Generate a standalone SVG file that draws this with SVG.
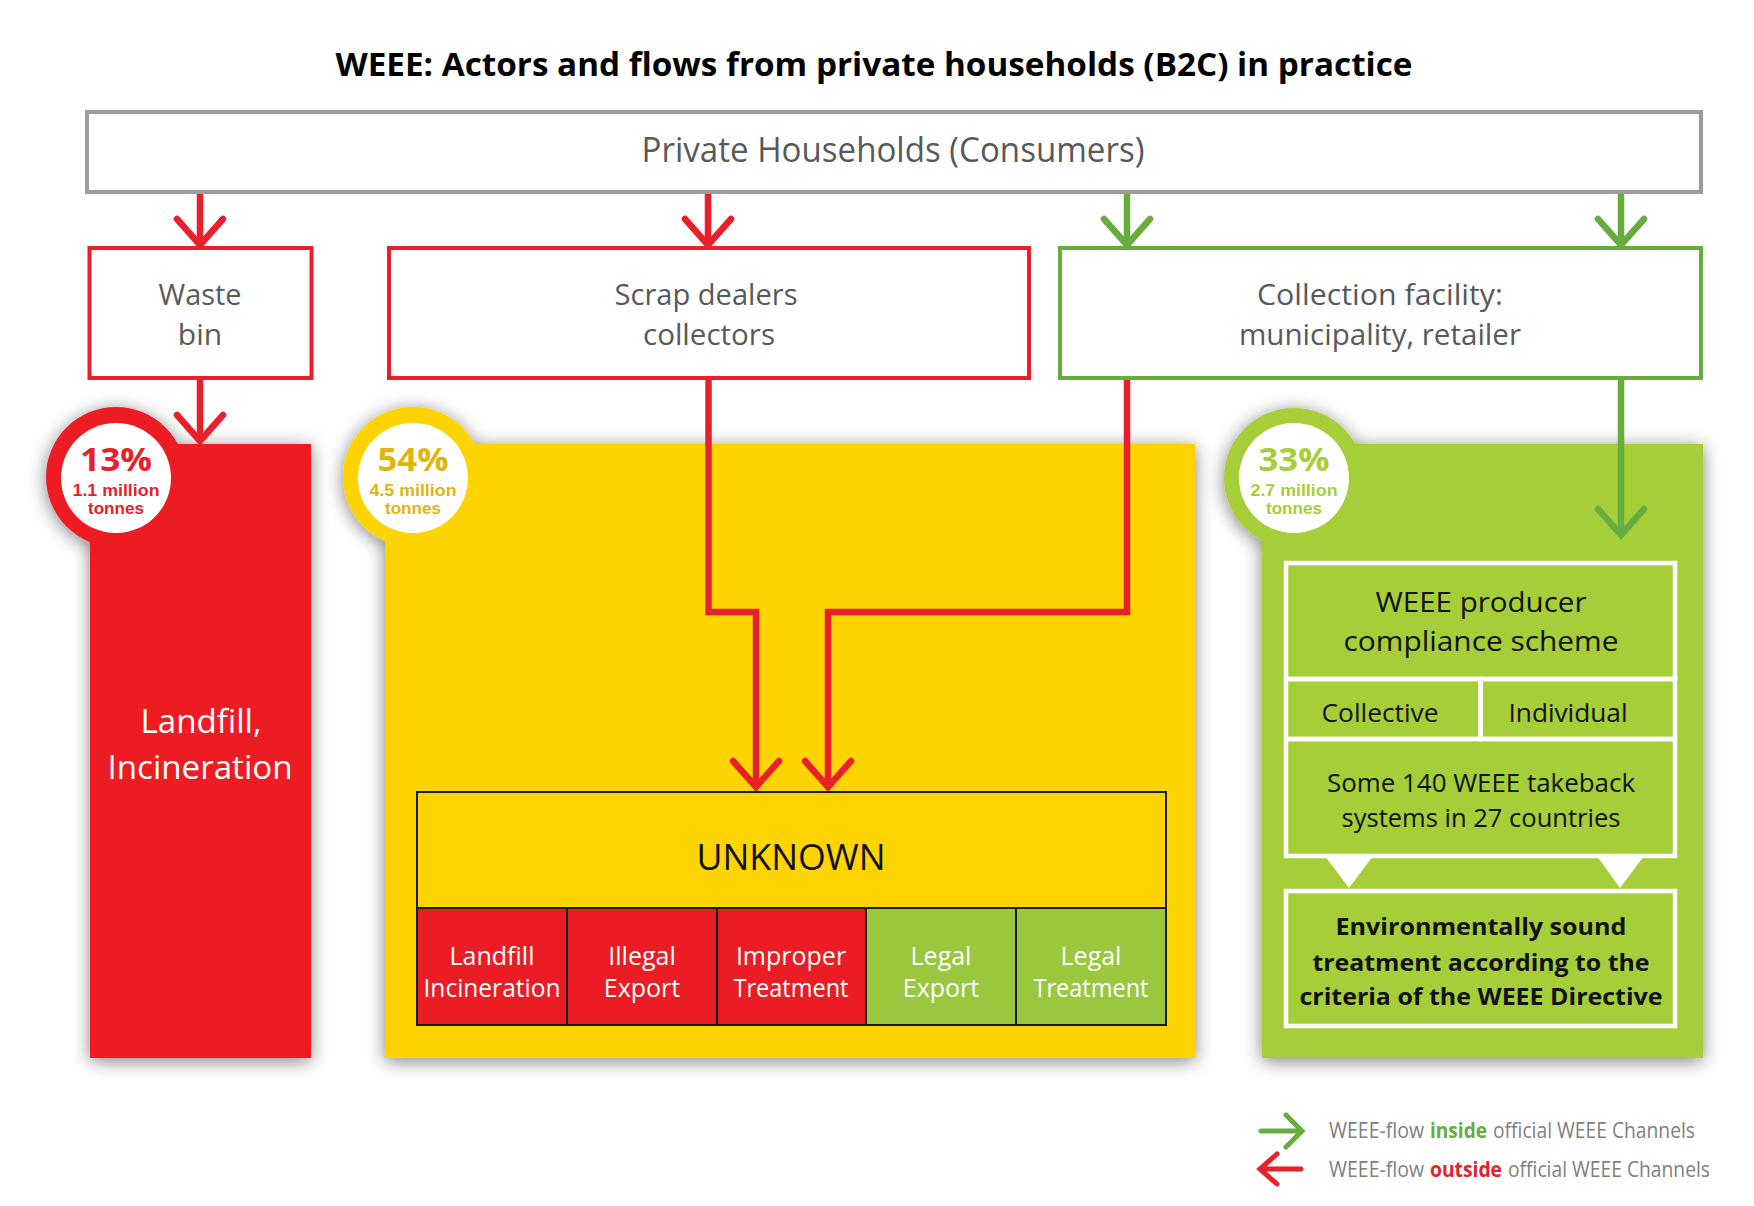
<svg xmlns="http://www.w3.org/2000/svg" width="1754" height="1206" viewBox="0 0 1754 1206">
<defs>
<style>
text{font-family:"Open Sans","Liberation Sans",sans-serif;}
.t{font-size:33px;font-weight:700;fill:#000;}
.gray{fill:#58595b;font-size:30px;}
.hh{fill:#58595b;font-size:35px;}
.pct{font-size:33px;font-weight:700;}
.mt{font-family:"Liberation Sans",Arial,sans-serif;font-size:16px;font-weight:700;}
.wt{fill:#fff;}
.bk{fill:#111;}
.cell{font-size:25px;fill:#fff;}
.gbox{fill:none;stroke:#fff;stroke-width:4.5;}
.redl{fill:none;stroke:#e8202a;stroke-width:6.5;stroke-linejoin:miter;}
.grnl{fill:none;stroke:#66ad3e;stroke-width:6.5;stroke-linejoin:miter;}
.leg{font-size:21px;fill:#808080;}
</style>
<filter id="sh" x="-20%" y="-20%" width="140%" height="140%">
<feGaussianBlur in="SourceAlpha" stdDeviation="9"/>
<feOffset dx="0" dy="3" result="b"/>
<feComponentTransfer><feFuncA type="linear" slope="0.5"/></feComponentTransfer>
<feMerge><feMergeNode/><feMergeNode in="SourceGraphic"/></feMerge>
</filter>
<marker id="mr" markerUnits="userSpaceOnUse" markerWidth="80" markerHeight="80" viewBox="-40 -40 80 80" refX="0" refY="0" orient="auto" overflow="visible">
<path d="M-26,-23 L0,0 L-26,23" fill="none" stroke="#e8202a" stroke-width="6.5" stroke-linecap="round" stroke-linejoin="miter"/>
</marker>
<marker id="mg" markerUnits="userSpaceOnUse" markerWidth="80" markerHeight="80" viewBox="-40 -40 80 80" refX="0" refY="0" orient="auto" overflow="visible">
<path d="M-26,-23 L0,0 L-26,23" fill="none" stroke="#66ad3e" stroke-width="6.5" stroke-linecap="round" stroke-linejoin="miter"/>
</marker>
</defs>
<rect width="1754" height="1206" fill="#fff"/>

<text id="title" class="t" x="874" y="76" text-anchor="middle" textLength="1077" lengthAdjust="spacingAndGlyphs">WEEE: Actors and flows from private households (B2C) in practice</text>

<g id="panel-red" filter="url(#sh)">
<circle cx="116" cy="477" r="70" fill="#ec1c24"/>
<rect x="90" y="444" width="221" height="614" fill="#ec1c24"/>
</g>
<g id="panel-yellow" filter="url(#sh)">
<circle cx="413" cy="477" r="70" fill="#fed402"/>
<rect x="385" y="444" width="810" height="614" fill="#fed402"/>
</g>
<g id="panel-green" filter="url(#sh)">
<circle cx="1294" cy="478" r="70" fill="#a6ce39"/>
<rect x="1262" y="444" width="441" height="614" fill="#a6ce39"/>
</g>

<g id="badge-red">
<circle cx="116" cy="478" r="55" fill="#fff"/>
<text class="pct" x="116" y="471" text-anchor="middle" fill="#e8202a" textLength="72" lengthAdjust="spacingAndGlyphs">13%</text>
<text class="mt" x="116" y="496" text-anchor="middle" fill="#e8202a" textLength="87" lengthAdjust="spacingAndGlyphs">1.1 million</text>
<text class="mt" x="116" y="514" text-anchor="middle" fill="#e8202a" textLength="56" lengthAdjust="spacingAndGlyphs">tonnes</text>
</g>
<g id="badge-yellow">
<circle cx="413" cy="478" r="55" fill="#fff"/>
<text class="pct" x="413" y="471" text-anchor="middle" fill="#e0b50c" textLength="71" lengthAdjust="spacingAndGlyphs">54%</text>
<text class="mt" x="413" y="496" text-anchor="middle" fill="#e0b50c" textLength="87" lengthAdjust="spacingAndGlyphs">4.5 million</text>
<text class="mt" x="413" y="514" text-anchor="middle" fill="#e0b50c" textLength="56" lengthAdjust="spacingAndGlyphs">tonnes</text>
</g>
<g id="badge-green">
<circle cx="1294" cy="478" r="55" fill="#fff"/>
<text class="pct" x="1294" y="471" text-anchor="middle" fill="#a6ce39" textLength="71" lengthAdjust="spacingAndGlyphs">33%</text>
<text class="mt" x="1294" y="496" text-anchor="middle" fill="#a6ce39" textLength="87" lengthAdjust="spacingAndGlyphs">2.7 million</text>
<text class="mt" x="1294" y="514" text-anchor="middle" fill="#a6ce39" textLength="56" lengthAdjust="spacingAndGlyphs">tonnes</text>
</g>

<g id="households">
<rect x="87" y="112" width="1614" height="80" fill="#fff" stroke="#9b9b9e" stroke-width="4"/>
<text class="hh" x="893" y="162" text-anchor="middle" textLength="503" lengthAdjust="spacingAndGlyphs">Private Households (Consumers)</text>
</g>
<g id="waste-bin">
<rect x="89.5" y="248" width="222" height="130" fill="#fff" stroke="#e8202a" stroke-width="4"/>
<text class="gray" x="200" y="305" text-anchor="middle" textLength="83" lengthAdjust="spacingAndGlyphs">Waste</text>
<text class="gray" x="200" y="345" text-anchor="middle">bin</text>
</g>
<g id="scrap-dealers">
<rect x="389" y="248" width="640" height="130" fill="#fff" stroke="#e8202a" stroke-width="4"/>
<text class="gray" x="706" y="305" text-anchor="middle" textLength="183" lengthAdjust="spacingAndGlyphs">Scrap dealers</text>
<text class="gray" x="709" y="345" text-anchor="middle" textLength="132" lengthAdjust="spacingAndGlyphs">collectors</text>
</g>
<g id="collection-facility">
<rect x="1060" y="248" width="641" height="130" fill="#fff" stroke="#66ad3e" stroke-width="4"/>
<text class="gray" x="1380" y="305" text-anchor="middle" textLength="246" lengthAdjust="spacingAndGlyphs">Collection facility:</text>
<text class="gray" x="1380" y="345" text-anchor="middle" textLength="282" lengthAdjust="spacingAndGlyphs">municipality, retailer</text>
</g>

<g id="landfill-incineration">
<text class="wt" style="font-size:33px" x="201" y="733" text-anchor="middle" textLength="121" lengthAdjust="spacingAndGlyphs">Landfill,</text>
<text class="wt" style="font-size:33px" x="200" y="779" text-anchor="middle" textLength="185" lengthAdjust="spacingAndGlyphs">Incineration</text>
</g>

<g id="unknown">
<rect x="417" y="792" width="749" height="116" fill="#fed402" stroke="#1a1a1a" stroke-width="2"/>
<text class="bk" style="font-size:37px" x="791" y="870" text-anchor="middle" textLength="189" lengthAdjust="spacingAndGlyphs">UNKNOWN</text>
</g>
<g id="cell-landfill">
<rect x="417" y="908" width="150" height="117" fill="#ec1c24" stroke="#1a1a1a" stroke-width="2"/>
<text class="cell" x="492" y="965" text-anchor="middle">Landfill</text>
<text class="cell" x="492" y="997" text-anchor="middle" textLength="137" lengthAdjust="spacingAndGlyphs">Incineration</text>
</g>
<g id="cell-illegal-export">
<rect x="567" y="908" width="150" height="117" fill="#ec1c24" stroke="#1a1a1a" stroke-width="2"/>
<text class="cell" x="642" y="965" text-anchor="middle">Illegal</text>
<text class="cell" x="642" y="997" text-anchor="middle">Export</text>
</g>
<g id="cell-improper">
<rect x="717" y="908" width="149" height="117" fill="#ec1c24" stroke="#1a1a1a" stroke-width="2"/>
<text class="cell" x="791" y="965" text-anchor="middle">Improper</text>
<text class="cell" x="791" y="997" text-anchor="middle" textLength="115" lengthAdjust="spacingAndGlyphs">Treatment</text>
</g>
<g id="cell-legal-export">
<rect x="866" y="908" width="150" height="117" fill="#9ac73e" stroke="#1a1a1a" stroke-width="2"/>
<text class="cell" x="941" y="965" text-anchor="middle">Legal</text>
<text class="cell" x="941" y="997" text-anchor="middle">Export</text>
</g>
<g id="cell-legal-treatment">
<rect x="1016" y="908" width="150" height="117" fill="#9ac73e" stroke="#1a1a1a" stroke-width="2"/>
<text class="cell" x="1091" y="965" text-anchor="middle">Legal</text>
<text class="cell" x="1091" y="997" text-anchor="middle" textLength="115" lengthAdjust="spacingAndGlyphs">Treatment</text>
</g>

<g id="compliance-scheme">
<rect class="gbox" x="1286" y="563" width="389" height="116"/>
<text class="bk" style="font-size:28px" x="1481" y="612" text-anchor="middle" textLength="211" lengthAdjust="spacingAndGlyphs">WEEE producer</text>
<text class="bk" style="font-size:28px" x="1481" y="651" text-anchor="middle" textLength="275" lengthAdjust="spacingAndGlyphs">compliance scheme</text>
</g>
<g id="collective">
<rect class="gbox" x="1286" y="679" width="194.7" height="60"/>
<text class="bk" style="font-size:26px" x="1380" y="722" text-anchor="middle" textLength="117" lengthAdjust="spacingAndGlyphs">Collective</text>
</g>
<g id="individual">
<rect class="gbox" x="1480.7" y="679" width="194.3" height="60"/>
<text class="bk" style="font-size:26px" x="1568" y="722" text-anchor="middle" textLength="119" lengthAdjust="spacingAndGlyphs">Individual</text>
</g>
<g id="takeback-systems">
<rect class="gbox" x="1286" y="739" width="389" height="117"/>
<text class="bk" style="font-size:26px" x="1481" y="792" text-anchor="middle" textLength="308" lengthAdjust="spacingAndGlyphs">Some 140 WEEE takeback</text>
<text class="bk" style="font-size:26px" x="1481" y="827" text-anchor="middle" textLength="279" lengthAdjust="spacingAndGlyphs">systems in 27 countries</text>
</g>
<g id="sound-treatment">
<rect class="gbox" x="1286" y="891" width="389" height="135"/>
<text class="bk" style="font-size:24px;font-weight:700" x="1481" y="935" text-anchor="middle" textLength="291" lengthAdjust="spacingAndGlyphs">Environmentally sound</text>
<text class="bk" style="font-size:24px;font-weight:700" x="1481" y="971" text-anchor="middle" textLength="337" lengthAdjust="spacingAndGlyphs">treatment according to the</text>
<text class="bk" style="font-size:24px;font-weight:700" x="1481" y="1005" text-anchor="middle" textLength="363" lengthAdjust="spacingAndGlyphs">criteria of the WEEE Directive</text>
</g>

<g id="connectors">
<path class="redl" d="M200,194 V245" marker-end="url(#mr)"/>
<path class="redl" d="M708,194 V245" marker-end="url(#mr)"/>
<path class="grnl" d="M1127,194 V245" marker-end="url(#mg)"/>
<path class="grnl" d="M1621,194 V245" marker-end="url(#mg)"/>
<path class="redl" d="M200,380 V441" marker-end="url(#mr)"/>
<path class="grnl" d="M1621,380 V535" marker-end="url(#mg)"/>
<path class="redl" d="M708.5,380 V612 H756 V787" marker-end="url(#mr)"/>
<path class="redl" d="M1127,380 V612 H828 V787" marker-end="url(#mr)"/>
<polygon points="1325,856 1373,856 1349,888" fill="#fff"/>
<polygon points="1597,856 1644,856 1620,888" fill="#fff"/>
</g>

<g id="legend">
<path d="M1261,1131 H1301 M1286,1115 L1302,1131 L1286,1147" fill="none" stroke="#66ad3e" stroke-width="5" stroke-linecap="round" stroke-linejoin="miter"/>
<path d="M1301,1169 H1261 M1277,1154 L1260,1169 L1277,1184" fill="none" stroke="#e8202a" stroke-width="5" stroke-linecap="round" stroke-linejoin="miter"/>
<text class="leg" x="1329" y="1138" textLength="95" lengthAdjust="spacingAndGlyphs">WEEE-flow</text>
<text class="leg" x="1430" y="1138" font-weight="700" fill="#66ad3e" style="fill:#66ad3e" textLength="57" lengthAdjust="spacingAndGlyphs">inside</text>
<text class="leg" x="1493" y="1138" textLength="202" lengthAdjust="spacingAndGlyphs">official WEEE Channels</text>
<text class="leg" x="1329" y="1177" textLength="95" lengthAdjust="spacingAndGlyphs">WEEE-flow</text>
<text class="leg" x="1430" y="1177" font-weight="700" style="fill:#e8202a" textLength="72" lengthAdjust="spacingAndGlyphs">outside</text>
<text class="leg" x="1508" y="1177" textLength="202" lengthAdjust="spacingAndGlyphs">official WEEE Channels</text>
</g>
</svg>
